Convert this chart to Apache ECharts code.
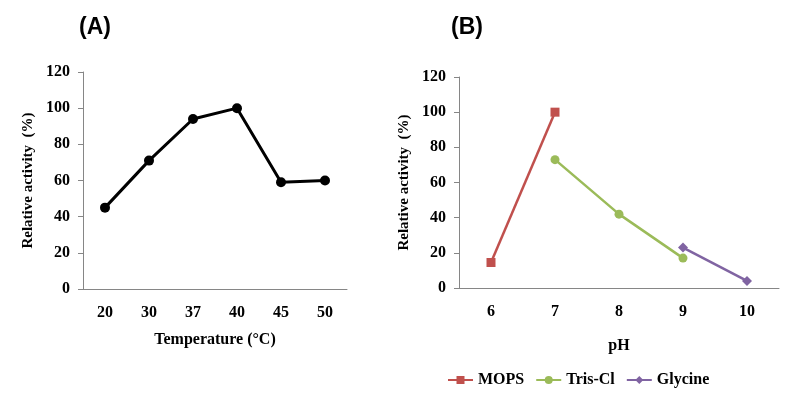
<!DOCTYPE html>
<html><head><meta charset="utf-8">
<script src="https://cdn.jsdelivr.net/npm/echarts@6/dist/echarts.min.js"></script>
<style>html,body{margin:0;padding:0;background:#fff}#c{width:797px;height:402px}</style>
</head><body><div id="c"></div>
<script>
var tempCategories = ['20','30','37','40','45','50'];
var tempActivity = [45, 71, 94, 100, 59, 60];
var phCategories = ['6','7','8','9','10'];
var mopsActivity = [14.5, 100, null, null, null];
var trisActivity = [null, 73, 42, 17, null];
var glycineActivity = [null, null, null, 23, 4];
var yTicks = {min: 0, max: 120, interval: 20};

var serif = '"Liberation Serif", "Times New Roman", serif';
var axisGray = '#868686';
function yAxisCfg(idx){
  return {gridIndex: idx, type: 'value', min: yTicks.min, max: yTicks.max, interval: yTicks.interval,
    name: 'Relative activity  (%)', nameLocation: 'middle', nameGap: 47,
    nameTextStyle: {fontFamily: serif, fontWeight: 'bold', fontSize: 15, color: '#000'},
    axisLine: {show: true, lineStyle: {color: axisGray, width: 1}},
    axisTick: {show: true, length: 5, lineStyle: {color: axisGray}},
    splitLine: {show: false},
    axisLabel: {margin: 13, fontFamily: serif, fontWeight: 'bold', fontSize: 16, color: '#000'}};
}
function xAxisCfg(idx, cats, name, gap){
  return {gridIndex: idx, type: 'category', data: cats, boundaryGap: true,
    name: name, nameLocation: 'middle', nameGap: gap,
    nameTextStyle: {fontFamily: serif, fontWeight: 'bold', fontSize: 16, color: '#000'},
    axisLine: {show: true, lineStyle: {color: axisGray, width: 1}},
    axisTick: {show: false},
    axisLabel: {margin: 16, fontFamily: serif, fontWeight: 'bold', fontSize: 16, color: '#000'}};
}
var chart = echarts.init(document.getElementById('c'), null, {renderer: 'canvas'});
chart.setOption({
  animation: false,
  backgroundColor: '#fff',
  title: [
    {text: '(A)', left: 79, top: 16, padding: 0, textStyle: {fontFamily: '"Liberation Sans", Arial, sans-serif', fontWeight: 'bold', fontSize: 23, color: '#000'}},
    {text: '(B)', left: 451, top: 16, padding: 0, textStyle: {fontFamily: '"Liberation Sans", Arial, sans-serif', fontWeight: 'bold', fontSize: 23, color: '#000'}}
  ],
  grid: [
    {left: 83, top: 72, width: 264, height: 217},
    {left: 459, top: 77, width: 320, height: 211}
  ],
  xAxis: [xAxisCfg(0, tempCategories, 'Temperature (°C)', 43), xAxisCfg(1, phCategories, 'pH', 50)],
  yAxis: [yAxisCfg(0), yAxisCfg(1)],
  legend: {
    left: 447, top: 372, padding: 0, itemWidth: 25, itemHeight: 10, itemGap: 11,
    textStyle: {fontFamily: serif, fontWeight: 'bold', fontSize: 16, color: '#000'},
    data: ['MOPS', 'Tris-Cl', 'Glycine']
  },
  series: [
    {type: 'line', xAxisIndex: 0, yAxisIndex: 0, data: tempActivity, symbol: 'circle', symbolSize: 10,
      lineStyle: {color: '#000', width: 3}, itemStyle: {color: '#000'}},
    {name: 'MOPS', type: 'line', xAxisIndex: 1, yAxisIndex: 1, data: mopsActivity, symbol: 'rect', symbolSize: 9,
      lineStyle: {color: '#C0504D', width: 2.5}, itemStyle: {color: '#C0504D'}},
    {name: 'Tris-Cl', type: 'line', xAxisIndex: 1, yAxisIndex: 1, data: trisActivity, symbol: 'circle', symbolSize: 9,
      lineStyle: {color: '#9BBB59', width: 2.5}, itemStyle: {color: '#9BBB59'}},
    {name: 'Glycine', type: 'line', xAxisIndex: 1, yAxisIndex: 1, data: glycineActivity, symbol: 'diamond', symbolSize: 10,
      lineStyle: {color: '#8064A2', width: 2.5}, itemStyle: {color: '#8064A2'}}
  ]
});
</script>
</body></html>
